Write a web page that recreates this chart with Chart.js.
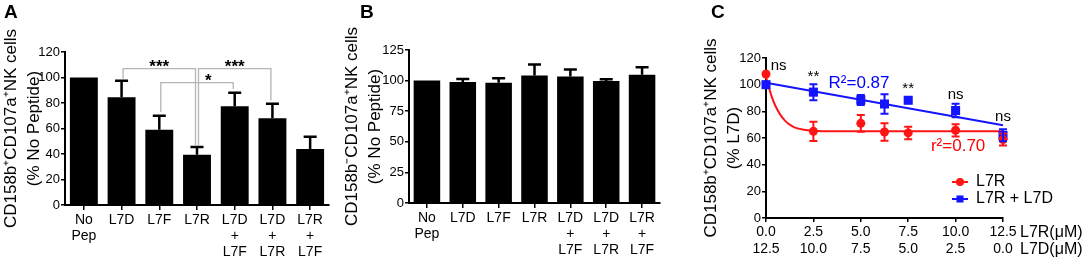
<!DOCTYPE html>
<html>
<head>
<meta charset="utf-8">
<script src="https://cdn.jsdelivr.net/npm/chart.js@4.4.1/dist/chart.umd.min.js"></script>
<style>
  body { margin: 0; background: #fff; width: 1084px; height: 276px; position: relative; overflow: hidden;
         font-family: "Liberation Sans", Arial, sans-serif; }
  canvas { position: absolute; top: 0; }
  .letter { position: absolute; top: 1px; font-weight: bold; font-size: 19px; color: #000; }
</style>
</head>
<body>
<canvas id="chartA" width="340" height="276" style="left:0"></canvas>
<canvas id="chartB" width="360" height="276" style="left:340px"></canvas>
<canvas id="chartC" width="384" height="276" style="left:700px"></canvas>
<div class="letter" style="left:4px">A</div>
<div class="letter" style="left:360px">B</div>
<div class="letter" style="left:711px">C</div>
<script>
// Categorias dos paineis A e B
var categorias = [["No", "Pep"], "L7D", "L7F", "L7R", ["L7D", "+", "L7F"], ["L7D", "+", "L7R"], ["L7R", "+", "L7F"]];

// Painel A
var mediaA = [100, 84.5, 59, 39.5, 77.5, 68, 44];
var erroA = [0, 13, 11, 6, 10.5, 11.5, 9.5];
var ticksA = [0, 20, 40, 60, 80, 100, 120];

// Comparacoes do painel A
var compDe = [1, 2, 3];
var compAte = [3, 4, 5];
var compAltura = [107, 96, 107];
var compPeEsq = [99, 73, 47];
var compPeDir = [47, 91, 82];
var compTexto = ["***", "*", "***"];
var compTextoEm = [2, 3.3, 4];

// Painel B
var mediaB = [100, 98.8, 98.2, 104.2, 103.3, 99.6, 104.8];
var erroB = [0, 2.6, 3.8, 9, 5.8, 1.6, 6.2];
var ticksB = [0, 25, 50, 75, 100, 125];

// Painel C
var concL7R = [0, 2.5, 5, 6.25, 7.5, 10, 12.5];
var vermelhoY = [108, 65, 71, 64.5, 63.8, 65.8, 58.8];
var vermelhoErro = [0, 7.2, 6.3, 6.5, 4.7, 4.6, 4.5];
var azulY = [100, 94.4, 88.5, 85.5, 88.3, 80.6, 62];
var azulErro = [0, 6, 3.8, 7.4, 1.5, 5, 4.5];
var ajusteVermelhoX = [0, 0.15, 0.3, 0.5, 0.75, 1, 1.25, 1.5, 2, 2.5, 3.5, 12.5];
var ajusteVermelhoY = [106, 98, 91, 84, 77.5, 73, 70, 68, 66.2, 65.5, 65.1, 65];
var ajusteAzulX = [0, 12.5];
var ajusteAzulY = [101.5, 69.5];
var ticksCX = [0, 2.5, 5, 7.5, 10, 12.5];
var rotulosL7R = ["0.0", "2.5", "5.0", "7.5", "10.0", "12.5"];
var rotulosL7D = ["12.5", "10.0", "7.5", "5.0", "2.5", "0.0"];
var ticksCY = [0, 20, 40, 60, 80, 100, 120];
var legendaC = ["L7R", "L7R + L7D"];
var notasTexto = ["ns", "**", "R\u00b2=0.87", "**", "ns", "ns", "r\u00b2=0.70"];
var notasX = [0.25, 2.5, 3.3, 7.5, 10, 12.5, 8.7];
var notasY = [114, 106, 101, 97, 92, 76, 53.5];
var notasCor = ["#000", "#000", "blue", "#000", "#000", "#000", "red"];

var VERMELHO = "rgb(255,20,20)";
var AZUL = "rgb(20,20,255)";
var FONTE = "'Liberation Sans', Arial, sans-serif";
var FONTE_ESTREITA = "'Liberation Sans Narrow', 'Liberation Sans', Arial, sans-serif";

Chart.defaults.font.family = FONTE;
Chart.defaults.color = "#000";

// Barras de erro (desenhadas com as escalas do grafico)
var barrasErro = {
  id: "barrasErro",
  afterDatasetsDraw: function (chart) {
    var ctx = chart.ctx;
    var ys = chart.scales.y;
    chart.data.datasets.forEach(function (ds, i) {
      if (!ds.erros) return;
      var meta = chart.getDatasetMeta(i);
      ctx.save();
      ctx.strokeStyle = ds.corErro;
      ctx.lineWidth = ds.larguraErro;
      meta.data.forEach(function (el, j) {
        var e = ds.erros[j];
        if (!e) return;
        var bruto = ds.data[j];
        var v = typeof bruto === "object" ? bruto.y : bruto;
        var cima = ys.getPixelForValue(v + e);
        var baixo = ds.errosDoisLados ? ys.getPixelForValue(v - e) : el.y;
        var c = ds.capa / 2;
        ctx.beginPath();
        ctx.moveTo(el.x, cima); ctx.lineTo(el.x, baixo);
        ctx.moveTo(el.x - c, cima); ctx.lineTo(el.x + c, cima);
        if (ds.errosDoisLados) { ctx.moveTo(el.x - c, baixo); ctx.lineTo(el.x + c, baixo); }
        ctx.stroke();
      });
      ctx.restore();
    });
  }
};

// Colchetes de significancia do painel A
var colchetes = {
  id: "colchetes",
  afterDatasetsDraw: function (chart) {
    var ctx = chart.ctx;
    var xs = chart.scales.x, ys = chart.scales.y;
    ctx.save();
    ctx.strokeStyle = "#b5b5b5";
    ctx.lineWidth = 1.3;
    for (var k = 0; k < compDe.length; k++) {
      var x1 = xs.getPixelForValue(compDe[k]) + 1.5;
      var x2 = xs.getPixelForValue(compAte[k]) - 1.5;
      var yt = ys.getPixelForValue(compAltura[k]);
      ctx.beginPath();
      ctx.moveTo(x1, ys.getPixelForValue(compPeEsq[k]));
      ctx.lineTo(x1, yt);
      ctx.lineTo(x2, yt);
      ctx.lineTo(x2, ys.getPixelForValue(compPeDir[k]));
      ctx.stroke();
      var pos = compTextoEm[k];
      var xp = xs.getPixelForValue(Math.floor(pos)) + (pos - Math.floor(pos)) * (xs.getPixelForValue(1) - xs.getPixelForValue(0));
      ctx.fillStyle = "#000";
      ctx.font = "bold 17px " + FONTE;
      ctx.textAlign = "center";
      ctx.textBaseline = "alphabetic";
      ctx.fillText(compTexto[k], xp, yt + 3);
    }
    ctx.restore();
  }
};

function eixoX(altura) {
  return {
    grid: { offset: false, drawOnChartArea: false, color: "#000", lineWidth: 1.5, tickLength: 5 },
    border: { color: "#000", width: 2 },
    ticks: { color: "#000", font: { size: 14, lineHeight: 1.15 }, maxRotation: 0, autoSkip: false, padding: 2 },
    afterFit: function (s) { s.height = altura; }
  };
}

function eixoY(max, valores, titulo, largura) {
  return {
    min: 0, max: max,
    afterBuildTicks: function (s) { s.ticks = valores.map(function (v) { return { value: v }; }); },
    grid: { drawOnChartArea: false, color: "#000", lineWidth: 1.5, tickLength: 4 },
    border: { color: "#000", width: 2 },
    ticks: { color: "#000", font: { size: 13 }, padding: 1 },
    title: { display: true, text: titulo, color: "#000", font: { size: 17, lineHeight: 1.35 }, padding: { top: 0, bottom: 0 } },
    afterFit: function (s) { s.width = largura; }
  };
}

function graficoBarras(id, medias, erros, max, valores, titulo, padding, largura, alturaX, extras) {
  return new Chart(document.getElementById(id), {
    type: "bar",
    data: {
      labels: categorias,
      datasets: [{
        data: medias, erros: erros, corErro: "#000", larguraErro: 2.5, capa: 13,
        backgroundColor: "#000", borderWidth: 0, barPercentage: 0.74, categoryPercentage: 1
      }]
    },
    options: {
      responsive: false, animation: false,
      layout: { padding: padding },
      plugins: { legend: { display: false }, tooltip: { enabled: false } },
      scales: { x: eixoX(alturaX), y: eixoY(max, valores, titulo, largura) }
    },
    plugins: [barrasErro].concat(extras)
  });
}

graficoBarras("chartA", mediaA, erroA, 120, ticksA,
  ["CD158b\u207aCD107a\u207aNK cells", "(% No Peptide)"],
  { top: 52, right: 11, left: 0, bottom: 0 }, 65, 71, [colchetes]);

graficoBarras("chartB", mediaB, erroB, 125, ticksB,
  ["CD158b\u207bCD107a\u207aNK cells", "(% No Peptide)"],
  { top: 50, right: 40, left: 1, bottom: 0 }, 68, 73, []);

// Painel C: legenda, notas e unidades do eixo x
var extrasC = {
  id: "extrasC",
  afterDraw: function (chart) {
    var ctx = chart.ctx;
    var xs = chart.scales.x, ys = chart.scales.y;
    var ca = chart.chartArea;
    ctx.save();
    // notas
    ctx.textAlign = "left";
    ctx.textBaseline = "middle";
    for (var k = 0; k < notasTexto.length; k++) {
      var t = notasTexto[k];
      ctx.fillStyle = notasCor[k];
      var grande = t.indexOf("\u00b2") >= 0;
      ctx.font = (grande ? "17px " : "15px ") + FONTE_ESTREITA;
      ctx.textAlign = (notasX[k] === 0.25 || grande) ? "left" : "center";
      ctx.fillText(t, xs.getPixelForValue(notasX[k]), ys.getPixelForValue(notasY[k]));
    }
    // legenda
    var cores = [VERMELHO, AZUL];
    var estilos = ["circle", "rect"];
    for (var i = 0; i < legendaC.length; i++) {
      var lx = ca.right - 51, ly = ca.bottom - 36 + i * 17;
      ctx.strokeStyle = cores[i];
      ctx.fillStyle = cores[i];
      ctx.lineWidth = 2;
      ctx.beginPath(); ctx.moveTo(lx, ly); ctx.lineTo(lx + 16, ly); ctx.stroke();
      Chart.helpers.drawPoint(ctx, { pointStyle: estilos[i], radius: i ? 5 : 4, borderWidth: 0 }, lx + 8, ly);
      ctx.fillStyle = "#000";
      ctx.font = "16px " + FONTE_ESTREITA;
      ctx.textAlign = "left";
      ctx.fillText(legendaC[i], lx + 24, ly);
    }
    // unidades
    var lh = 14 * 1.2;
    var y0 = xs.top + 4 + 2;
    ctx.font = "16px " + FONTE_ESTREITA;
    ctx.fillStyle = "#000";
    ctx.textAlign = "left";
    ctx.fillText("L7R(\u03bcM)", xs.right + 17, y0 + lh * 0.5);
    ctx.fillText("L7D(\u03bcM)", xs.right + 17, y0 + lh * 1.5);
    ctx.restore();
  }
};

function pontos(xv, yv) {
  return xv.map(function (x, i) { return { x: x, y: yv[i] }; });
}

new Chart(document.getElementById("chartC"), {
  type: "scatter",
  data: {
    datasets: [
      { data: pontos(concL7R, vermelhoY), erros: vermelhoErro, errosDoisLados: true, corErro: VERMELHO, larguraErro: 2, capa: 8,
        backgroundColor: VERMELHO, borderColor: VERMELHO, pointStyle: "circle", pointRadius: 4.5, pointBorderWidth: 0, clip: false, order: 0 },
      { data: pontos(concL7R, azulY), erros: azulErro, errosDoisLados: true, corErro: AZUL, larguraErro: 2, capa: 8,
        backgroundColor: AZUL, borderColor: AZUL, pointStyle: "rect", pointRadius: 6.4, pointBorderWidth: 0, clip: false, order: 0 },
      { type: "line", data: pontos(ajusteVermelhoX, ajusteVermelhoY), borderColor: VERMELHO, borderWidth: 2,
        pointRadius: 0, cubicInterpolationMode: "monotone", clip: false, order: 1 },
      { type: "line", data: pontos(ajusteAzulX, ajusteAzulY), borderColor: AZUL, borderWidth: 2,
        pointRadius: 0, clip: false, order: 1 }
    ]
  },
  options: {
    responsive: false, animation: false,
    layout: { padding: { top: 58, right: 81, left: 0, bottom: 0 } },
    plugins: { legend: { display: false }, tooltip: { enabled: false } },
    scales: {
      x: {
        type: "linear", min: 0, max: 12.5,
        afterBuildTicks: function (s) { s.ticks = ticksCX.map(function (v) { return { value: v }; }); },
        grid: { drawOnChartArea: false, color: "#000", lineWidth: 1.5, tickLength: 4 },
        border: { color: "#000", width: 2 },
        ticks: {
          color: "#000", font: { size: 14, family: FONTE_ESTREITA, lineHeight: 1.2 }, maxRotation: 0, autoSkip: false, padding: 2,
          callback: function (v, i) { return [rotulosL7R[i], rotulosL7D[i]]; }
        },
        afterFit: function (s) { s.height = 58; }
      },
      y: eixoY(120, ticksCY, ["CD158b\u207aCD107a\u207aNK cells", "(% L7D)"], 66)
    }
  },
  plugins: [barrasErro, extrasC]
});
</script>
</body>
</html>
